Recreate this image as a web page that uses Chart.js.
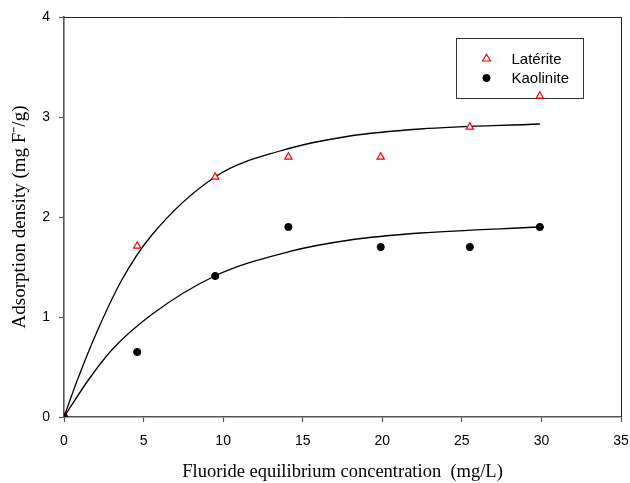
<!DOCTYPE html>
<html>
<head>
<meta charset="utf-8">
<script src="https://cdn.jsdelivr.net/npm/chart.js@4"></script>
<style>
  html, body { margin: 0; padding: 0; background: #fff; }
  #c { display: block; }
</style>
</head>
<body>
<canvas id="c" width="630" height="483"></canvas>
<script>
// ---- data ----
const concentration = [0, 4.6, 9.5, 14.1, 19.9, 25.5, 29.9];
const lateriteDensity = [0, 1.71, 2.40, 2.60, 2.60, 2.90, 3.21];
const kaoliniteDensity = [0, 0.65, 1.41, 1.90, 1.70, 1.70, 1.90];
// fitted curves
const lateriteFitX = [0, 0.84, 2.12, 3.63, 5.47, 9.58, 13.57, 17.97, 22.4, 29.9];
const lateriteFitY = [0, 0.37, 0.87, 1.37, 1.81, 2.41, 2.66, 2.81, 2.88, 2.93];
const kaoliniteFitX = [0, 1.53, 3.0, 5.47, 9.48, 14.2, 17.97, 22.4, 29.9];
const kaoliniteFitY = [0, 0.37, 0.67, 1.02, 1.41, 1.656, 1.77, 1.84, 1.90];
const xTicks = [0, 5, 10, 15, 20, 25, 30, 35];
const yTicks = [0, 1, 2, 3, 4];
const seriesNames = ['Latérite', 'Kaolinite'];
const xTitle = 'Fluoride equilibrium concentration  (mg/L)';
const yTitle = 'Adsorption density (mg F\u207B/g)';

const toXY = (xs, ys) => xs.map((x, i) => ({ x: x, y: ys[i] }));

const frame = {
  id: 'frame',
  afterDraw(chart) {
    const { ctx, chartArea: a } = chart;
    ctx.save();
    ctx.strokeStyle = '#222';
    ctx.lineWidth = 1;
    ctx.beginPath();
    ctx.moveTo(a.left, a.top + 0.5);
    ctx.lineTo(a.right + 0.5, a.top + 0.5);
    ctx.lineTo(a.right + 0.5, a.bottom);
    ctx.stroke();
    ctx.restore();
  }
};

const legendBox = {
  id: 'legendBox',
  beforeDatasetsDraw(chart) {
    const { ctx, chartArea: a } = chart;
    const bx = a.left + 392.5, by = a.top + 21.5, bw = 127, bh = 60;
    ctx.save();
    ctx.fillStyle = '#fff';
    ctx.fillRect(bx, by, bw, bh);
    ctx.strokeStyle = '#333';
    ctx.lineWidth = 1;
    ctx.strokeRect(bx, by, bw, bh);
    const rows = [chart.data.datasets[2], chart.data.datasets[3]];
    rows.forEach((ds, i) => {
      const cy = by + 20 + i * 19.5;
      const cx = bx + 30;
      ctx.fillStyle = ds.backgroundColor;
      ctx.strokeStyle = ds.borderColor;
      ctx.lineWidth = ds.borderWidth;
      ctx.beginPath();
      if (ds.pointStyle === 'triangle') {
        const r = ds.pointRadius;
        ctx.moveTo(cx, cy - r);
        ctx.lineTo(cx + r * 0.95, cy + r * 0.6);
        ctx.lineTo(cx - r * 0.95, cy + r * 0.6);
        ctx.closePath();
      } else {
        ctx.arc(cx, cy, ds.pointRadius, 0, Math.PI * 2);
      }
      ctx.fill();
      ctx.stroke();
      ctx.fillStyle = '#000';
      ctx.font = '15px "Liberation Sans", Arial, sans-serif';
      ctx.textBaseline = 'middle';
      ctx.textAlign = 'left';
      ctx.fillText(ds.label, bx + 55, cy + 1);
    });
    ctx.restore();
  }
};

new Chart(document.getElementById('c'), {
  type: 'scatter',
  data: {
    datasets: [
      {
        label: 'fit1', type: 'line', data: toXY(lateriteFitX, lateriteFitY),
        borderColor: '#000', borderWidth: 1.3, pointRadius: 0, fill: false,
        cubicInterpolationMode: 'monotone', order: 3
      },
      {
        label: 'fit2', type: 'line', data: toXY(kaoliniteFitX, kaoliniteFitY),
        borderColor: '#000', borderWidth: 1.3, pointRadius: 0, fill: false,
        cubicInterpolationMode: 'monotone', order: 3
      },
      {
        label: seriesNames[0], data: toXY(concentration, lateriteDensity),
        pointStyle: 'triangle', pointRadius: 4.2, borderColor: '#ff0000',
        backgroundColor: '#ffffff', borderWidth: 1.2, order: 2
      },
      {
        label: seriesNames[1], data: toXY(concentration, kaoliniteDensity),
        pointStyle: 'circle', pointRadius: 3.6, borderColor: '#000',
        backgroundColor: '#000', borderWidth: 1, order: 1
      }
    ]
  },
  options: {
    responsive: false,
    animation: false,
    devicePixelRatio: 1,
    layout: { padding: { top: 17, right: 9, left: 0, bottom: 0 } },
    plugins: { legend: { display: false }, tooltip: { enabled: false } },
    scales: {
      x: {
        type: 'linear', min: 0, max: 35,
        afterBuildTicks: s => { s.ticks = xTicks.map(v => ({ value: v })); },
        afterFit: s => { s.height = 66; s.paddingRight = 0; s.paddingLeft = 0; },
        grid: { drawOnChartArea: false, drawTicks: true, tickLength: 5, color: '#555', tickWidth: 1.2 },
        border: { display: true, color: '#555', width: 1.6 },
        ticks: { color: '#000', font: { family: '"Liberation Sans", Arial, sans-serif', size: 14 }, padding: 11, maxRotation: 0 },
        title: { display: true, text: xTitle, color: '#000', font: { family: '"Liberation Serif", "Times New Roman", serif', size: 18.5 }, padding: { top: 0, bottom: 0 } }
      },
      y: {
        type: 'linear', min: 0, max: 4,
        afterBuildTicks: s => { s.ticks = yTicks.map(v => ({ value: v })); },
        afterFit: s => { s.width = 64; s.paddingTop = 0; s.paddingBottom = 0; },
        grid: { drawOnChartArea: false, drawTicks: true, tickLength: 5, color: '#555', tickWidth: 1.2 },
        border: { display: true, color: '#555', width: 1.6 },
        ticks: { color: '#000', font: { family: '"Liberation Sans", Arial, sans-serif', size: 14 }, padding: 9 },
        title: { display: true, text: yTitle, color: '#000', font: { family: '"Liberation Serif", "Times New Roman", serif', size: 19 }, padding: { top: 9, bottom: 0 } }
      }
    }
  },
  plugins: [frame, legendBox]
});
</script>
</body>
</html>
